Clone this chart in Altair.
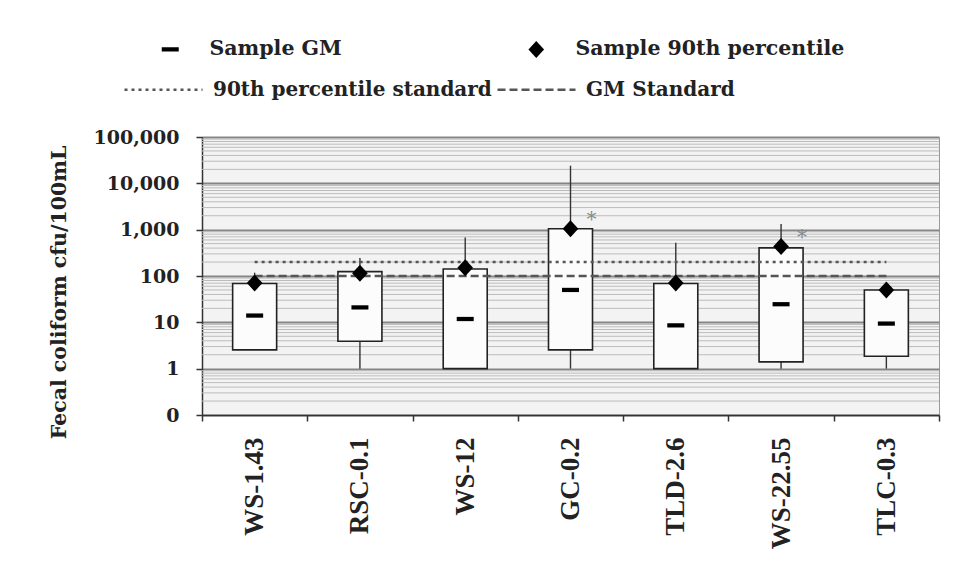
import altair as alt
import pandas as pd

# ---- data ----
sites = ["WS-1.43", "RSC-0.1", "WS-12", "GC-0.2", "TLD-2.6", "WS-22.55", "TLC-0.3"]
box_low = [2.55, 3.9, 1.0, 2.55, 1.0, 1.4, 1.85]
box_high = [69, 124, 142, 1050, 69, 405, 50]
whisk_min = [2.55, 1.0, 1.0, 1.0, 1.0, 1.0, 1.0]
whisk_max = [118, 245, 680, 24000, 520, 1330, 50]
gm = [14, 21, 11.8, 50, 8.6, 24.6, 9.4]
p90 = [71, 114, 151, 1050, 71, 433, 50]
flags = ["", "", "", "*", "", "*", ""]
std_names = ["90th percentile standard", "GM Standard"]
std_values = [200, 100]
y_ticks = [0.1, 1, 10, 100, 1000, 10000, 100000]
minor_grid = [m * 10 ** e for e in range(-1, 5) for m in range(2, 10)]
series_names = ["Sample GM", "Sample 90th percentile"]

box_df = pd.DataFrame({"site": sites, "low": box_low, "high": box_high,
                       "wmin": whisk_min, "wmax": whisk_max})
pts_df = pd.DataFrame({"site": sites * 2,
                       "series": [series_names[0]] * len(sites) + [series_names[1]] * len(sites),
                       "value": gm + p90})
flag_df = pd.DataFrame({"site": sites, "value": p90, "flag": flags})
std_df = pd.DataFrame({"name": std_names, "value": std_values,
                       "start": [sites[0]] * 2, "end": [sites[-1]] * 2})
grid_df = pd.DataFrame({"v": minor_grid})

gm_path = "M-1,-0.25L1,-0.25L1,0.25L-1,0.25Z"
dia_path = "M0,-1L0.92,0L0,1L-0.92,0Z"

yscale = alt.Scale(type="log", domain=[0.1, 100000], nice=False)
xscale = alt.Scale(domain=sites, paddingInner=0, paddingOuter=0)

y_axis = alt.Axis(
    title="Fecal coliform cfu/100mL", values=y_ticks,
    labelExpr="datum.value < 1 ? '0' : format(datum.value, ',')",
    grid=True, gridColor="#858585", gridWidth=2,
    tickSize=6, tickColor="#333", tickWidth=1.5,
    domainColor="#333", domainWidth=1.5,
    labelFont="DejaVu Serif", labelFontWeight="bold", labelFontSize=19,
    labelColor="#222", labelPadding=17,
    titleFont="DejaVu Serif", titleFontWeight="bold", titleFontSize=20.5,
    titleColor="#222", titleX=-143, titleY=155, titleAngle=270,
    titleAlign="center", titleBaseline="middle",
)
x_axis = alt.Axis(
    title=None, labelAngle=270, labelAlign="right", labelBaseline="middle",
    labelFont="Liberation Serif", labelFontWeight="bold", labelFontSize=27,
    labelColor="#222", labelPadding=16,
    tickBand="extent", tickSize=6, tickColor="#333", tickWidth=1.5,
    domainColor="#333", domainWidth=1.5, grid=False,
)

minor = alt.Chart(grid_df).mark_rule(color="#bcbcbc", strokeWidth=1).encode(
    y=alt.Y("v:Q", scale=yscale, axis=y_axis)
)

whisk = alt.Chart(box_df).mark_rule(color="#333", strokeWidth=1.4).encode(
    x=alt.X("site:N", scale=xscale, axis=x_axis, sort=sites),
    y=alt.Y("wmin:Q", scale=yscale, axis=y_axis),
    y2="wmax:Q",
)

boxes = alt.Chart(box_df).mark_bar(size=44, fill="#fcfcfc", stroke="#222",
                                   strokeWidth=1.6).encode(
    x=alt.X("site:N", scale=xscale, axis=x_axis, sort=sites),
    y=alt.Y("low:Q", scale=yscale, axis=y_axis),
    y2="high:Q",
)

stds = alt.Chart(std_df).mark_rule(color="#555", strokeWidth=2.5).encode(
    x=alt.X("start:N", scale=xscale, axis=x_axis, sort=sites),
    x2="end:N",
    y=alt.Y("value:Q", scale=yscale, axis=y_axis),
    strokeDash=alt.StrokeDash(
        "name:N",
        scale=alt.Scale(domain=std_names, range=[[3, 4], [8, 4]]),
        legend=alt.Legend(
            title=None, orient="none", legendX=-79, legendY=-88,
            direction="horizontal", columns=2, columnPadding=0,
            labelOffset=9, symbolSize=6084, symbolType="stroke",
            symbolStrokeColor="#555", symbolStrokeWidth=2.5,
            labelFont="DejaVu Serif", labelFontSize=20, labelFontWeight="bold",
            labelColor="#222", labelLimit=500,
        ),
    ),
)

pts = alt.Chart(pts_df).mark_point(filled=True, color="black", size=289,
                                   opacity=1).encode(
    x=alt.X("site:N", scale=xscale, axis=x_axis, sort=sites),
    y=alt.Y("value:Q", scale=yscale, axis=y_axis),
    shape=alt.Shape(
        "series:N",
        scale=alt.Scale(domain=series_names, range=[gm_path, dia_path]),
        legend=alt.Legend(
            title=None, orient="none", legendX=-42, legendY=-98,
            direction="horizontal", columns=2, columnPadding=184,
            labelOffset=29, symbolSize=289, symbolFillColor="black",
            symbolStrokeWidth=0,
            labelFont="DejaVu Serif", labelFontSize=20.5, labelFontWeight="bold",
            labelColor="#222", labelLimit=500,
        ),
    ),
)

stars = alt.Chart(flag_df).mark_text(dx=21, dy=-9, fontSize=20, color="#8a8a8a",
                                     font="DejaVu Serif").encode(
    x=alt.X("site:N", scale=xscale, axis=x_axis, sort=sites),
    y=alt.Y("value:Q", scale=yscale, axis=y_axis),
    text="flag:N",
)

chart = alt.layer(minor, whisk, boxes, stds, pts, stars).properties(
    width=737, height=278,
    padding={"left": 202, "top": 137, "right": 17, "bottom": 162},
    autosize=alt.AutoSizeParams(type="none"),
    background="white",
).configure_view(fill="#f3f3f3", stroke="#9a9a9a", strokeWidth=1)

chart.save("out.html", embed_options={"renderer": "svg", "actions": False})
